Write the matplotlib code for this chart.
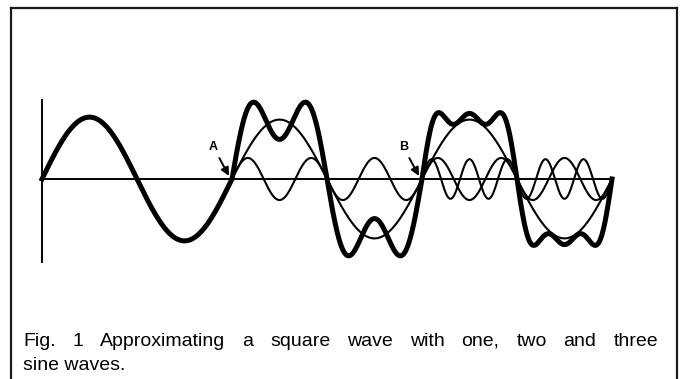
"""
Square wave built up from one, two and three sine waves.
"""

import numpy as np
import matplotlib.pyplot as plt
from matplotlib.lines import Line2D

# harmonic numbers used in each period
harmonics = [1, 3, 5]
# amplitudes of the thin component waves (fundamental = 1)
component_amps = [0.96, 0.34, 0.32]
# amplitudes of the heavy resulting wave, one list per period
sum_amps = [
    [1.00],
    [1.19, 0.55],
    [1.22, 0.36, 0.20],
]
marks = ["A", "B"]

caption_line1 = "Fig. 1 Approximating a square wave with one, two and three"
caption_line2 = "sine waves."

W, H = 683, 379


def justify(fig, words, x0, x1, y, **kw):
    """Place words so the line fills x0..x1 (pixel coords)."""
    texts = [fig.text(0, y / H, w, va="baseline", ha="left", **kw) for w in words]
    renderer = fig.canvas.get_renderer()
    widths = [t.get_window_extent(renderer).width for t in texts]
    gap = (x1 - x0 - sum(widths)) / (len(words) - 1)
    x = x0
    for t, w in zip(texts, widths):
        t.set_x(x / W)
        x += w + gap


def main():
    fig = plt.figure(figsize=(W / 100, H / 100), dpi=100)
    ax = fig.add_axes([42 / W, (H - 278) / H, 570 / W, 198 / H])
    ax.set_xlim(0, 6 * np.pi)
    ax.set_ylim(-1.6, 1.6)
    ax.axis("off")

    # axes of the diagram
    ax.plot([0, 6 * np.pi], [0, 0], color="black", lw=1.4, clip_on=False)
    ax.plot([0, 0], [1.27, -1.34], color="black", lw=1.4, clip_on=False)

    heavy_t, heavy_y = [], []
    for i, amps in enumerate(sum_amps):
        t = np.linspace(2 * np.pi * i, 2 * np.pi * (i + 1), 400)
        y = np.zeros_like(t)
        for a, h in zip(amps, harmonics):
            y += a * np.sin(h * t)
        heavy_t.append(t)
        heavy_y.append(y)
        if len(amps) > 1:
            for k in range(len(amps)):
                ax.plot(t, component_amps[k] * np.sin(harmonics[k] * t),
                        color="black", lw=1.5, clip_on=False)
    ax.plot(np.concatenate(heavy_t), np.concatenate(heavy_y),
            color="black", lw=3.6, solid_joinstyle="round", clip_on=False, zorder=3)

    # labels where each new sine wave is added
    for label, t0 in zip(marks, [2 * np.pi, 4 * np.pi]):
        ax.annotate(label, xy=(t0 - 0.1, 0.05), xytext=(t0 - 0.62, 0.52),
                    ha="center", va="center", fontsize=9, fontweight="bold",
                    family=["Liberation Sans", "DejaVu Sans"],
                    arrowprops=dict(arrowstyle="-|>", color="black", lw=1.4,
                                    mutation_scale=12, shrinkA=2, shrinkB=0))

    # frame around the figure
    frame = dict(transform=fig.transFigure, color="#1a1a1a", lw=1.6)
    fig.add_artist(Line2D([11 / W, 677 / W], [1 - 7.5 / H, 1 - 7.5 / H], **frame))
    fig.add_artist(Line2D([11 / W, 11 / W], [0, 1 - 7.5 / H], **frame))
    fig.add_artist(Line2D([677 / W, 677 / W], [0, 1 - 7.5 / H], **frame))

    cap = dict(fontsize=14, color="black",
               family=["Liberation Sans", "DejaVu Sans"])
    justify(fig, caption_line1.split(), 23, 658, H - 346, **cap)
    fig.text(23 / W, (H - 370) / H, caption_line2, va="baseline", ha="left", **cap)

    fig.savefig("out.png", dpi=100)


if __name__ == "__main__":
    main()
